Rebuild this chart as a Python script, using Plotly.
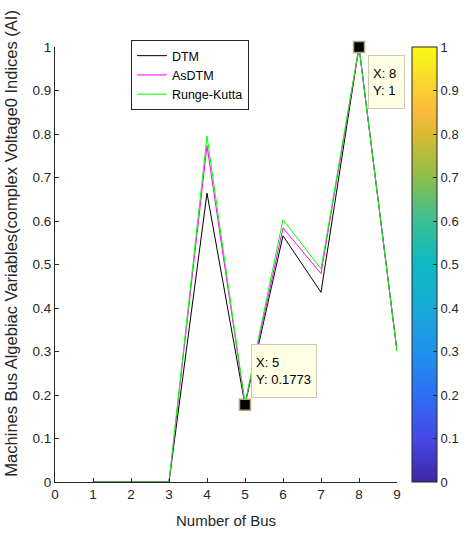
import plotly.graph_objects as go

# Bus numbers and algebraic-variable indices for each method
bus = [1, 2, 3, 4, 5, 6, 7, 8, 9]
dtm = [0, 0, 0, 0.664, 0.1773, 0.566, 0.436, 1, 0.301]
asdtm = [0, 0, 0, 0.773, 0.179, 0.584, 0.479, 1, 0.301]
runge_kutta = [0, 0, 0, 0.795, 0.181, 0.603, 0.490, 1, 0.301]

# Data tips (bus, value)
tip_low = (5, 0.1773)
tip_high = (8, 1)

x_ticks = list(range(0, 10))
y_ticks = [round(i * 0.1, 1) for i in range(11)]

# MATLAB-style parula colormap
parula = [
    [0.0, "rgb(62,38,168)"],
    [0.1, "rgb(70,72,228)"],
    [0.2, "rgb(45,112,245)"],
    [0.3, "rgb(30,146,235)"],
    [0.4, "rgb(25,170,215)"],
    [0.5, "rgb(12,185,195)"],
    [0.6, "rgb(58,191,148)"],
    [0.7, "rgb(140,190,75)"],
    [0.8, "rgb(218,186,48)"],
    [0.85, "rgb(250,186,60)"],
    [0.9, "rgb(250,206,50)"],
    [1.0, "rgb(249,250,20)"],
]

font_family = "Liberation Sans, Arial"
ink = "#262626"

fig = go.Figure()
fig.add_trace(go.Scatter(x=bus, y=dtm, mode="lines", name="DTM",
                         line=dict(color="black", width=1)))
fig.add_trace(go.Scatter(x=bus, y=asdtm, mode="lines", name="AsDTM",
                         line=dict(color="#ff00ff", width=1)))
fig.add_trace(go.Scatter(x=bus, y=runge_kutta, mode="lines", name="Runge-Kutta",
                         line=dict(color="#00ff00", width=1)))

# Data-tip markers
fig.add_trace(go.Scatter(
    x=[tip_low[0], tip_high[0]], y=[tip_low[1], tip_high[1]], mode="markers",
    marker=dict(symbol="square", size=11, color="black",
                line=dict(color="#b0a878", width=1.5)),
    showlegend=False, hoverinfo="skip", cliponaxis=False))

# Invisible trace carrying the colorbar
fig.add_trace(go.Scatter(
    x=[None], y=[None], mode="markers", showlegend=False, hoverinfo="skip",
    marker=dict(color=[0], cmin=0, cmax=1, colorscale=parula, showscale=True,
                colorbar=dict(
                    x=1.044, xanchor="left", xref="paper",
                    y=0.5, yanchor="middle", len=1, lenmode="fraction",
                    thickness=25, outlinecolor=ink, outlinewidth=1,
                    tickmode="array", tickvals=y_ticks,
                    ticktext=[f"{v:g}" for v in y_ticks],
                    ticks="inside", ticklen=4, tickcolor=ink,
                    tickfont=dict(family=font_family, size=13, color=ink),
                    xpad=0, ypad=0,
                ))))

tip_box = dict(xref="x", yref="y", showarrow=False, align="left",
               bgcolor="#ffffe6", bordercolor="#c8c8b4", borderwidth=1,
               borderpad=4, width=56, height=44,
               font=dict(family=font_family, size=13, color="black"))

fig.add_annotation(x=tip_low[0], y=tip_low[1],
                   text=f"X: {tip_low[0]}<br>Y: {tip_low[1]}",
                   xanchor="left", yanchor="bottom", xshift=6, yshift=7, **tip_box)
tip_box.update(width=27)
fig.add_annotation(x=tip_high[0], y=tip_high[1],
                   text=f"X: {tip_high[0]}<br>Y: {tip_high[1]}",
                   xanchor="left", yanchor="top", xshift=9, yshift=-8, **tip_box)

# Y-axis title
fig.add_annotation(xref="paper", yref="paper", x=-0.129, y=0.55,
                   text="Machines Bus Algebiac Variables(complex Voltage0 Indices (AI)",
                   textangle=-90, showarrow=False, xanchor="center", yanchor="middle",
                   font=dict(family=font_family, size=16.5, color=ink))

axis_common = dict(showgrid=False, zeroline=False, showline=True,
                   linecolor=ink, linewidth=1, ticks="inside", ticklen=4,
                   tickcolor=ink, mirror=False,
                   tickfont=dict(family=font_family, size=13.5, color=ink))

fig.update_layout(
    width=464, height=535,
    margin=dict(l=55, r=67, t=47, b=53, autoexpand=False),
    paper_bgcolor="white", plot_bgcolor="white",
    xaxis=dict(range=[0, 9], tickmode="array", tickvals=x_ticks,
               title=dict(text="Number of Bus", standoff=14,
                          font=dict(family=font_family, size=15, color=ink)),
               **axis_common),
    yaxis=dict(range=[0, 1], tickmode="array", tickvals=y_ticks,
               ticktext=[f"{v:g}" for v in y_ticks], **axis_common),
    legend=dict(x=0.222, y=1.016, xanchor="left", yanchor="top",
                bgcolor="white", bordercolor=ink, borderwidth=1,
                font=dict(family=font_family, size=12.5, color="black"),
                tracegroupgap=0),
)

fig.write_html("out.html")
